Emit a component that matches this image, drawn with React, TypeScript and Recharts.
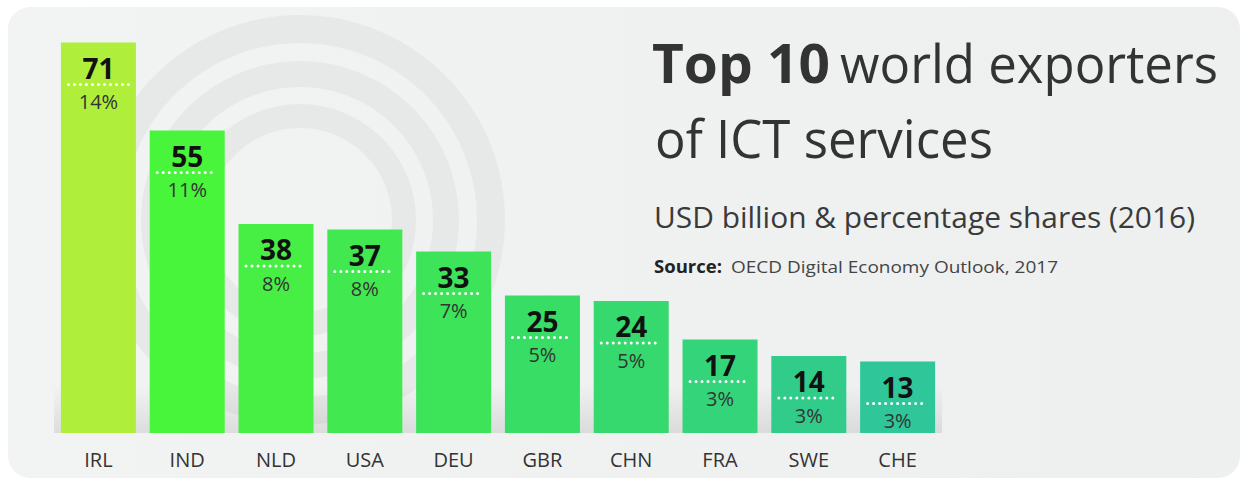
import React from "react";
import { BarChart, Bar, XAxis, YAxis, Cell, LabelList } from "recharts";

/* ── Data ───────────────────────────────────────────────────────── */
const countries = ["IRL", "IND", "NLD", "USA", "DEU", "GBR", "CHN", "FRA", "SWE", "CHE"];
const exportsUsdBn = [71, 55, 38, 37, 33, 25, 24, 17, 14, 13];
const sharePct = [14, 11, 8, 8, 7, 5, 5, 3, 3, 3];

const BAR_COLORS = [
  "#b0ee3c", "#48f53a", "#47ef44", "#42e84f", "#3de358",
  "#38dd66", "#36d96d", "#34d47b", "#31cc8a", "#2fc69a",
];

const data = countries.map((c, i) => ({ country: c, value: exportsUsdBn[i], share: sharePct[i] }));

const FONT = "'Open Sans', 'Noto Sans', sans-serif";

/* ── Label inside each bar: value, dotted rule, share ───────────── */
function BarLabel(props: any) {
  const { x, y, width, index } = props;
  const cx = x + width / 2;
  return (
    <g>
      <text x={cx} y={y + 25} textAnchor="middle" dominantBaseline="central"
        fontFamily={FONT} fontSize={28} fontWeight={700} fill="#111">
        {exportsUsdBn[index]}
      </text>
      <line x1={cx - 30} x2={cx + 30} y1={y + 42} y2={y + 42} stroke="#fff"
        strokeWidth={3} strokeDasharray="0 6" strokeLinecap="round" />
      <text x={cx} y={y + 59} textAnchor="middle" dominantBaseline="central"
        fontFamily={FONT} fontSize={20} fill="#333">
        {sharePct[index]}%
      </text>
    </g>
  );
}

export default function App() {
  return (
    <div style={{ position: "relative", width: 1243, height: 483, background: "#fff" }}>
      <style>{"body{margin:0}"}</style>

      {/* ── Card + background rings ──────────────────────────── */}
      <svg width={1243} height={483} style={{ position: "absolute", left: 0, top: 0 }}>
        <defs>
          <linearGradient id="cardBg" x1="0" y1="0" x2="1" y2="0">
            <stop offset="0%" stopColor="#f2f3f3" />
            <stop offset="100%" stopColor="#edf0ef" />
          </linearGradient>
          <linearGradient id="baseShade" x1="0" y1="0" x2="0" y2="1">
            <stop offset="0%" stopColor="#000" stopOpacity={0} />
            <stop offset="100%" stopColor="#000" stopOpacity={0.09} />
          </linearGradient>
          <clipPath id="cardClip">
            <rect x={8} y={7} width={1232} height={471} rx={22} />
          </clipPath>
        </defs>
        <rect x={8} y={7} width={1232} height={471} rx={22} fill="url(#cardBg)" />
        <g clipPath="url(#cardClip)" fill="none" stroke="#e7e9e9">
          <circle cx={300} cy={220} r={191} strokeWidth={28} />
          <circle cx={300} cy={220} r={146} strokeWidth={26} />
          <circle cx={300} cy={220} r={104} strokeWidth={24} />
        </g>
        <rect x={54} y={385} width={888} height={48} fill="url(#baseShade)" />
      </svg>

      {/* ── Chart ────────────────────────────────────────────── */}
      <div style={{ position: "absolute", left: 0, top: 0 }}>
        <BarChart width={1243} height={483} data={data} barCategoryGap="7.8%"
          margin={{ top: 37, right: 301, bottom: 20, left: 54 }}>
          <YAxis hide domain={[0, 72]} />
          <XAxis dataKey="country" axisLine={false} tickLine={false} height={30}
            tickMargin={14} interval={0}
            tick={{ fill: "#333", fontSize: 20, fontFamily: FONT }} />
          <Bar dataKey="value" isAnimationActive={false}>
            {data.map((d, i) => (
              <Cell key={d.country} fill={BAR_COLORS[i]} />
            ))}
            <LabelList dataKey="value" content={<BarLabel />} />
          </Bar>
        </BarChart>
      </div>

      {/* ── Title block ──────────────────────────────────────── */}
      <svg width={1243} height={483} style={{ position: "absolute", left: 0, top: 0, pointerEvents: "none" }}>
        <g fontFamily={FONT} fill="#333">
          <text x={652} y={83} fontSize={53} fontWeight={700} textLength={178} lengthAdjust="spacingAndGlyphs">Top 10</text>
          <text x={840} y={83} fontSize={53} textLength={378} lengthAdjust="spacingAndGlyphs">world exporters</text>
          <text x={655} y={158} fontSize={53} textLength={338} lengthAdjust="spacingAndGlyphs">of ICT services</text>
          <text x={654} y={228} fontSize={29} fill="#3a3a3a" textLength={541} lengthAdjust="spacingAndGlyphs">USD billion &amp; percentage shares (2016)</text>
          <text x={654} y={273} fontSize={17} fontWeight={700} fill="#222" textLength={68} lengthAdjust="spacingAndGlyphs">Source:</text>
          <text x={731} y={273} fontSize={17} fill="#444" textLength={327} lengthAdjust="spacingAndGlyphs">OECD Digital Economy Outlook, 2017</text>
        </g>
      </svg>
    </div>
  );
}
